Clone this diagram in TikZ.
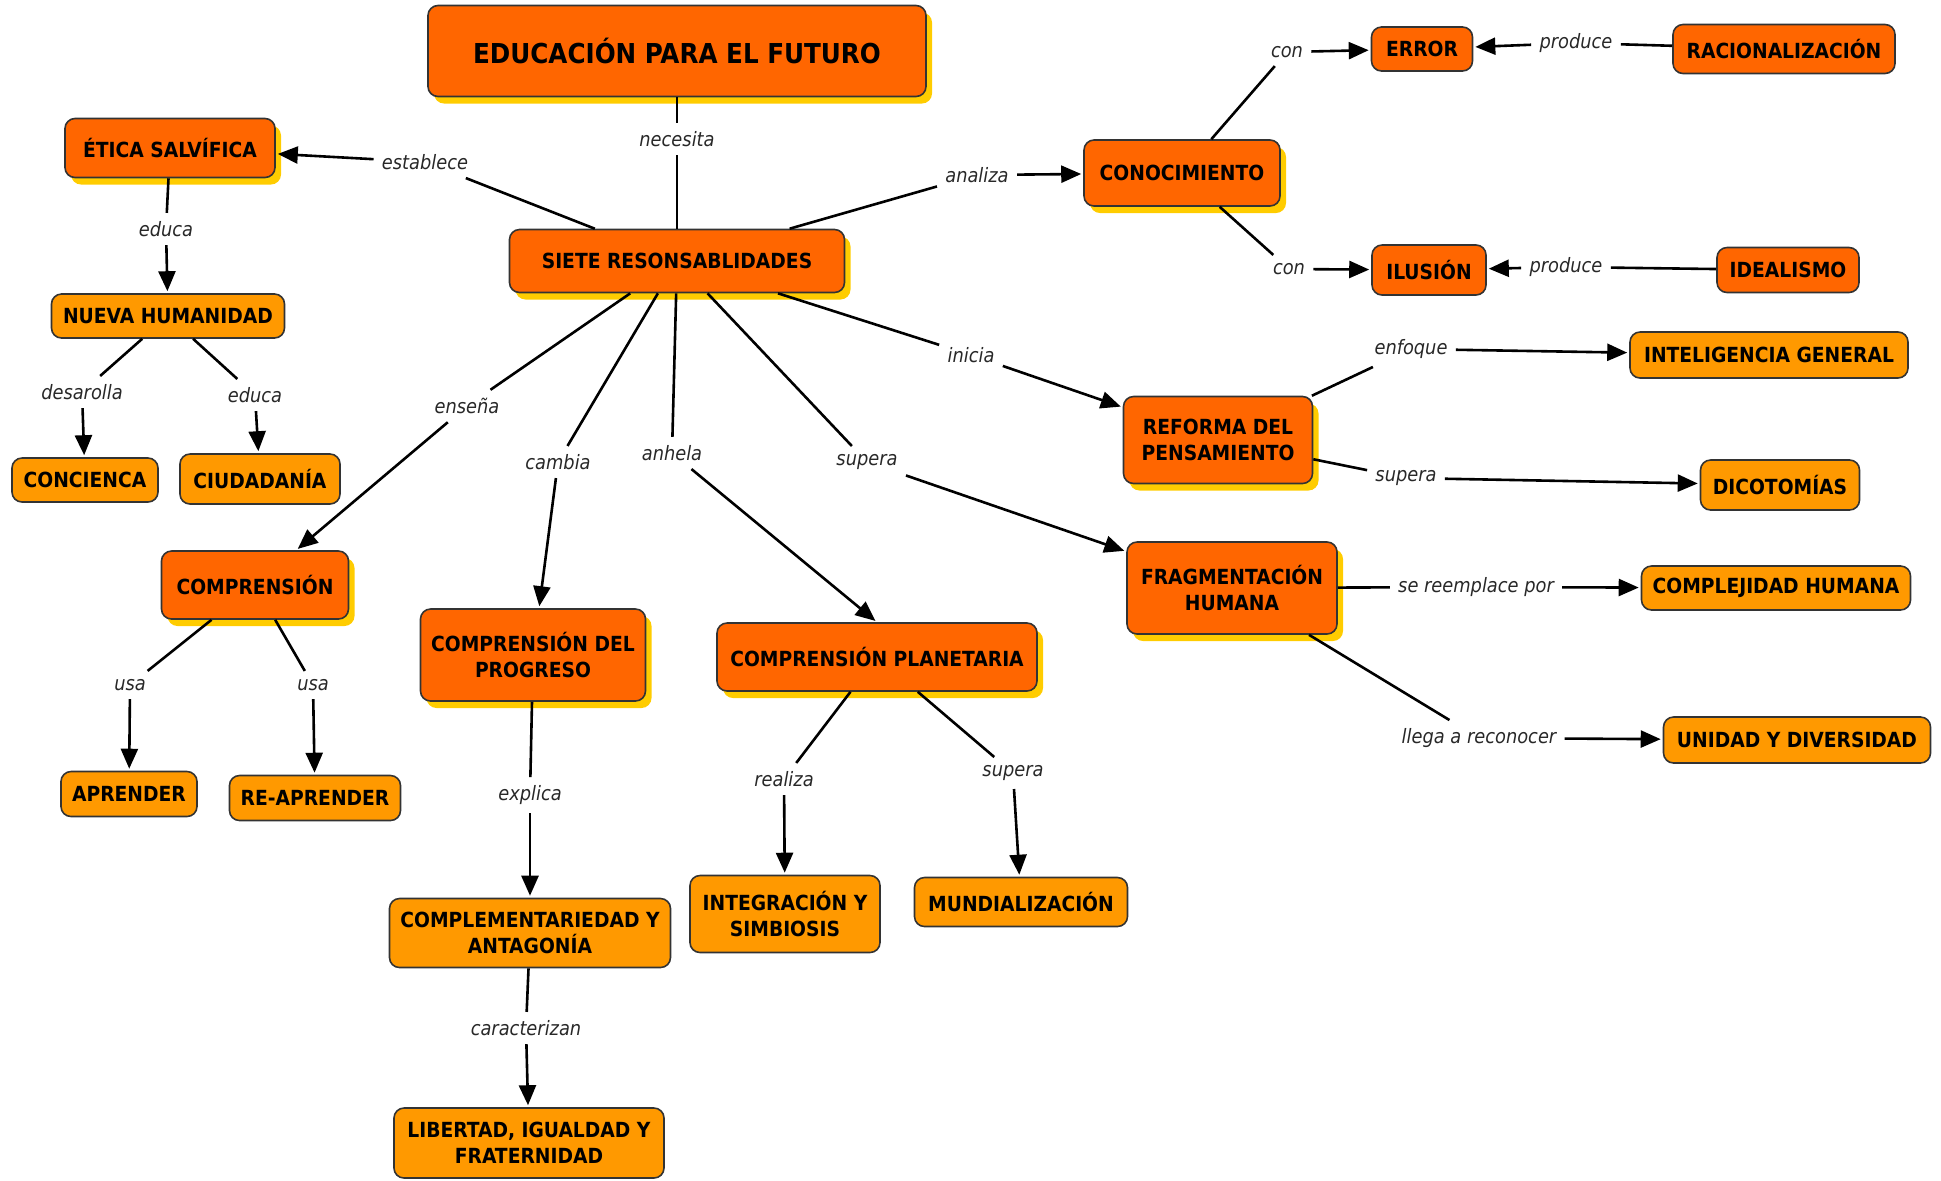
\documentclass[tikz,border=0pt]{standalone}
\usepackage{fontspec}
\setmainfont{DejaVu Sans Condensed}
\usetikzlibrary{arrows.meta,shadows}
\definecolor{naranja}{RGB}{255,102,0}
\definecolor{naranjaclaro}{RGB}{255,153,0}
\definecolor{sombra}{RGB}{255,204,0}
\definecolor{enlacetexto}{RGB}{40,40,40}

\tikzset{
  concepto/.style={draw=black!80,line width=0.8pt,rounded corners=5pt,align=center,inner sep=2pt,
    font=\fontsize{10.4}{13}\selectfont\bfseries},
  oscuro/.style={concepto,fill=naranja},
  principal/.style={oscuro,drop shadow={shadow xshift=3pt,shadow yshift=-3.5pt,fill=sombra,opacity=1}},
  claro/.style={concepto,fill=naranjaclaro},
  enlace/.style={font=\fontsize{9.9}{11}\selectfont\itshape,text=enlacetexto,inner sep=4pt},
  linea/.style={line width=1.3pt},
  flecha/.style={linea,-{Triangle[length=10pt,width=8.5pt]},shorten >=1pt},
}

\begin{document}
\begin{tikzpicture}[x=0.5pt,y=-0.5pt]
    \useasboundingbox (0,0) rectangle (1941,1180);

    % conceptos
    \node[principal,minimum width=249pt,minimum height=45.5pt,font=\fontsize{13.7}{16}\selectfont\bfseries] (titulo) at (677,51) {EDUCACIÓN PARA EL FUTURO};
    \node[principal,minimum width=167.5pt,minimum height=31.5pt] (siete) at (677,261) {SIETE RESONSABLIDADES};
    \node[principal,minimum width=105pt,minimum height=29.5pt] (etica) at (170,148) {ÉTICA SALVÍFICA};
    \node[claro,minimum width=116.5pt,minimum height=22pt] (nueva) at (168,316) {NUEVA HUMANIDAD};
    \node[claro,minimum width=73pt,minimum height=22pt] (conciencia) at (85,480) {CONCIENCA};
    \node[claro,minimum width=80pt,minimum height=25pt] (ciudadania) at (260,479) {CIUDADANÍA};
    \node[principal,minimum width=93.5pt,minimum height=34pt] (comprension) at (255,585) {COMPRENSIÓN};
    \node[claro,minimum width=68pt,minimum height=22.5pt] (aprender) at (129,794) {APRENDER};
    \node[claro,minimum width=85.5pt,minimum height=22.5pt] (reaprender) at (315,798) {RE-APRENDER};
    \node[principal,minimum width=112.5pt,minimum height=46pt] (progreso) at (533,655) {COMPRENSIÓN DEL\\PROGRESO};
    \node[claro,minimum width=140.5pt,minimum height=34.5pt] (complement) at (530,933) {COMPLEMENTARIEDAD Y\\ANTAGONÍA};
    \node[claro,minimum width=135pt,minimum height=35pt] (libertad) at (529,1143) {LIBERTAD, IGUALDAD Y\\FRATERNIDAD};
    \node[principal,minimum width=160pt,minimum height=34pt] (planetaria) at (877,657) {COMPRENSIÓN PLANETARIA};
    \node[claro,minimum width=95pt,minimum height=38.5pt] (integracion) at (785,914) {INTEGRACIÓN Y\\SIMBIOSIS};
    \node[claro,minimum width=106.5pt,minimum height=24.5pt] (mundial) at (1021,902) {MUNDIALIZACIÓN};
    \node[principal,minimum width=98pt,minimum height=33pt] (conocimiento) at (1182,173) {CONOCIMIENTO};
    \node[oscuro,minimum width=50.5pt,minimum height=22pt] (error) at (1422,49) {ERROR};
    \node[oscuro,minimum width=111pt,minimum height=24.5pt] (racional) at (1784,49) {RACIONALIZACIÓN};
    \node[oscuro,minimum width=57pt,minimum height=25pt] (ilusion) at (1429,270) {ILUSIÓN};
    \node[oscuro,minimum width=71pt,minimum height=22.5pt] (idealismo) at (1788,270) {IDEALISMO};
    \node[principal,minimum width=94.5pt,minimum height=43.5pt] (reforma) at (1218,440) {REFORMA DEL\\PENSAMIENTO};
    \node[claro,minimum width=139pt,minimum height=23pt] (inteligencia) at (1769,355) {INTELIGENCIA GENERAL};
    \node[claro,minimum width=79.5pt,minimum height=25pt] (dicotomias) at (1780,485) {DICOTOMÍAS};
    \node[principal,minimum width=105pt,minimum height=46pt] (fragmentacion) at (1232,588) {FRAGMENTACIÓN\\HUMANA};
    \node[claro,minimum width=134.5pt,minimum height=22pt] (complejidad) at (1776,588) {COMPLEJIDAD HUMANA};
    \node[claro,minimum width=133.5pt,minimum height=23pt] (unidad) at (1797,740) {UNIDAD Y DIVERSIDAD};

    % palabras de enlace
    \node[enlace] (lNecesita) at (677,139) {necesita};
    \node[enlace] (lEstablece) at (425,162) {establece};
    \node[enlace] (lAnaliza) at (977,175) {analiza};
    \node[enlace] (lEduca) at (166,229) {educa};
    \node[enlace] (lDesarolla) at (82,392) {desarolla};
    \node[enlace] (lEducaB) at (255,395) {educa};
    \node[enlace] (lEnsena) at (467,406) {enseña};
    \node[enlace] (lCambia) at (558,462) {cambia};
    \node[enlace] (lAnhela) at (672,453) {anhela};
    \node[enlace] (lSupera) at (867,462) {supera};
    \node[enlace] (lInicia) at (971,355) {inicia};
    \node[enlace] (lConA) at (1287,52) {con};
    \node[enlace] (lProduceA) at (1576,43) {produce};
    \node[enlace] (lConB) at (1289,269) {con};
    \node[enlace] (lProduceB) at (1566,267) {produce};
    \node[enlace] (lEnfoque) at (1411,349) {enfoque};
    \node[enlace] (lSuperaB) at (1406,478) {supera};
    \node[enlace] (lReemplace) at (1476,587) {se reemplace por};
    \node[enlace] (lLlega) at (1479,738) {llega a reconocer};
    \node[enlace] (lUsaA) at (130,685) {usa};
    \node[enlace] (lUsaB) at (313,685) {usa};
    \node[enlace] (lExplica) at (530,795) {explica};
    \node[enlace] (lCaracterizan) at (526,1028) {caracterizan};
    \node[enlace] (lRealiza) at (784,779) {realiza};
    \node[enlace] (lSuperaC) at (1013,773) {supera};

    % conexiones
    \draw[linea] (titulo) -- (lNecesita);
    \draw[linea] (lNecesita) -- (siete);
    \draw[linea] (siete) -- (lEstablece);
    \draw[flecha] (lEstablece) -- (etica);
    \draw[linea] (siete) -- (lAnaliza);
    \draw[flecha] (lAnaliza) -- (conocimiento);
    \draw[linea] (etica) -- (lEduca);
    \draw[flecha] (lEduca) -- (nueva);
    \draw[linea] (nueva) -- (lDesarolla);
    \draw[flecha] (lDesarolla) -- (conciencia);
    \draw[linea] (nueva) -- (lEducaB);
    \draw[flecha] (lEducaB) -- (ciudadania);
    \draw[linea] (siete) -- (lEnsena);
    \draw[flecha] (lEnsena) -- (comprension);
    \draw[linea] (siete) -- (lCambia);
    \draw[flecha] (lCambia) -- (progreso);
    \draw[linea] (siete) -- (lAnhela);
    \draw[flecha] (lAnhela) -- (planetaria.north);
    \draw[linea] (siete) -- (lSupera);
    \draw[flecha] (lSupera) -- (fragmentacion);
    \draw[linea] (siete) -- (lInicia);
    \draw[flecha] (lInicia) -- (reforma);
    \draw[linea] (conocimiento) -- (lConA);
    \draw[flecha] (lConA) -- (error);
    \draw[linea] (racional) -- (lProduceA);
    \draw[flecha] (lProduceA) -- (error);
    \draw[linea] (conocimiento) -- (lConB);
    \draw[flecha] (lConB) -- (ilusion);
    \draw[linea] (idealismo) -- (lProduceB);
    \draw[flecha] (lProduceB) -- (ilusion);
    \draw[linea] (reforma) -- (lEnfoque);
    \draw[flecha] (lEnfoque) -- (inteligencia);
    \draw[linea] (reforma) -- (lSuperaB);
    \draw[flecha] (lSuperaB) -- (dicotomias);
    \draw[linea] (fragmentacion) -- (lReemplace);
    \draw[flecha] (lReemplace) -- (complejidad);
    \draw[linea] (fragmentacion) -- (lLlega);
    \draw[flecha] (lLlega) -- (unidad);
    \draw[linea] (comprension) -- (lUsaA);
    \draw[flecha] (lUsaA) -- (aprender);
    \draw[linea] (comprension) -- (lUsaB);
    \draw[flecha] (lUsaB) -- (reaprender);
    \draw[linea] (progreso) -- (lExplica);
    \draw[flecha] (lExplica) -- (complement);
    \draw[linea] (complement) -- (lCaracterizan);
    \draw[flecha] (lCaracterizan) -- (libertad);
    \draw[linea] (planetaria) -- (lRealiza);
    \draw[flecha] (lRealiza) -- (integracion);
    \draw[linea] (planetaria) -- (lSuperaC);
    \draw[flecha] (lSuperaC) -- (mundial);
\end{tikzpicture}
\end{document}
